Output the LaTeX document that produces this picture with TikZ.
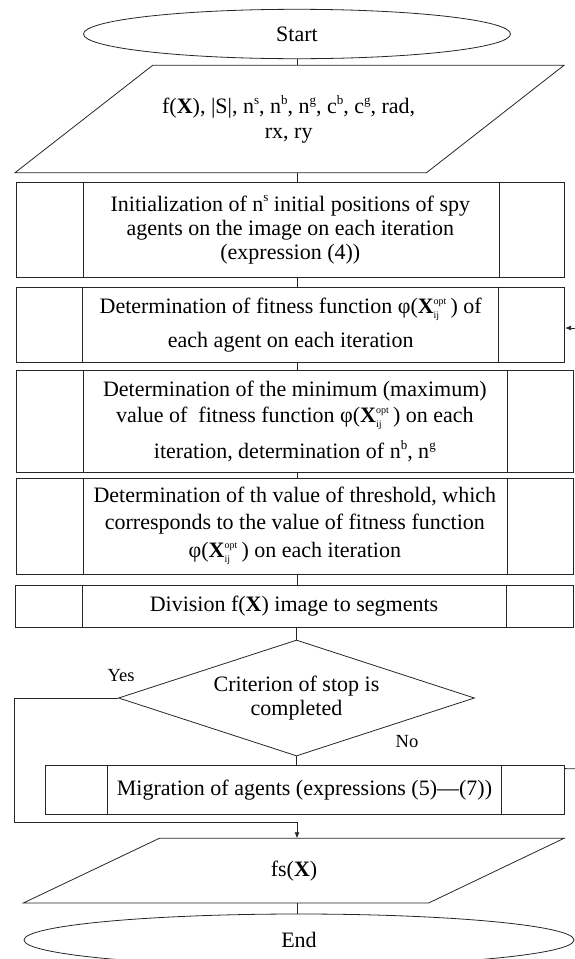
\documentclass[tikz,border=0pt]{standalone}
\usepackage{amsmath}
\usepackage{fontspec}
\setmainfont{Liberation Serif}
\usetikzlibrary{shapes.geometric,arrows.meta}
\newcommand\Xopt{$\textbf{X}^{\text{\fontsize{10}{10}\selectfont opt}}_{\text{\fontsize{10}{10}\selectfont ij}}$}
\newcommand\sps[1]{\raisebox{0.42em}{\fontsize{13}{13}\selectfont #1}}
\newcommand\pdlines[3]{%
  \draw ([xshift=#2]#1.north west) -- ([xshift=#2]#1.south west);
  \draw ([xshift=-#3]#1.north east) -- ([xshift=-#3]#1.south east);}
\begin{document}
\begin{tikzpicture}[x=1pt,y=-1pt,line width=0.8pt,draw=black!85,
  every node/.style={font=\fontsize{22}{24}\selectfont, inner sep=0pt, text=black},
  procbox/.style={draw=black!85, rectangle, align=center},
  term/.style={draw=black!85, ellipse},
  decbox/.style={draw=black!85, diamond, aspect=3.07, align=center},
  arr/.style={-{Latex[length=6pt,width=5pt]}},
  lbl/.style={font=\fontsize{18.5}{20}\selectfont}]
\useasboundingbox (0,0) rectangle (574,959);

% terminals
\node[term, minimum width=427pt, minimum height=49.4pt] (start) at (297,34) {Start};

% input parallelogram
\coordinate (p1tl) at (152.7,65.3);
\coordinate (p1tr) at (564,65.3);
\coordinate (p1br) at (426.5,172.7);
\coordinate (p1bl) at (15,172.7);
\coordinate (p1top) at (297,65.3);
\coordinate (p1bot) at (297,172.7);
\draw (p1tl) -- (p1tr) -- (p1br) -- (p1bl) -- cycle;
\node[align=center] (inp) at (288.7,119.5) {f(\textbf{X}), |S|, n\sps{s}, n\sps{b}, n\sps{g}, c\sps{b}, c\sps{g}, rad,\\[1pt]rx, ry};

% process boxes
\node[procbox, minimum width=547.3pt, minimum height=94.7pt] (b1) at (290.35,229.65)
  {Initialization of n\sps{s} initial positions of spy\\agents on the image on each iteration\\(expression (4))};
\pdlines{b1}{66.6pt}{65pt}

\node[procbox, minimum width=548pt, minimum height=75.7pt] (b2) at (290.7,324.85)
  {Determination of fitness function φ(\Xopt\,) of\\[10pt]each agent on each iteration};
\pdlines{b2}{66.3pt}{66.7pt}

\node[procbox, minimum width=556.3pt, minimum height=101.5pt] (b3) at (294.85,421.25)
  {Determination of the minimum (maximum)\\[2.7pt]value of\ \ fitness function φ(\Xopt\,) on each\\[9.3pt]iteration, determination of n\sps{b}, n\sps{g}};
\pdlines{b3}{67.3pt}{66.3pt}

\node[procbox, minimum width=556.3pt, minimum height=95.7pt] (b4) at (294.85,526.15)
  {Determination of th value of threshold, which\\[2.7pt]corresponds to the value of fitness function\\[4.3pt]φ(\Xopt\,) on each iteration};
\pdlines{b4}{67.3pt}{66.3pt}

\node[procbox, minimum width=558pt, minimum height=42.7pt] (b5) at (294,606.35)
  {Division f(\textbf{X}) image to segments};
\pdlines{b5}{67.7pt}{67.5pt}

% decision
\node[decbox, minimum width=356pt, minimum height=116pt] (dec) at (296.5,698)
  {Criterion of stop is\\completed};
\node[lbl] (yes) at (121,676) {Yes};
\node[lbl] (no) at (407,741.7) {No};

% migration
\node[procbox, minimum width=519pt, minimum height=48.3pt] (mig) at (304.5,789.85)
  {Migration of agents (expressions (5)—(7))};
\pdlines{mig}{62.3pt}{63.3pt}

% output parallelogram
\coordinate (p2tl) at (159.3,838.3);
\coordinate (p2tr) at (564,838.3);
\coordinate (p2br) at (428.6,903);
\coordinate (p2bl) at (23.3,903);
\coordinate (p2top) at (297,838.3);
\coordinate (p2bot) at (297,903);
\draw (p2tl) -- (p2tr) -- (p2br) -- (p2bl) -- cycle;
\node (outp) at (294,871) {fs(\textbf{X})};

\node[term, minimum width=550pt, minimum height=52pt] (end) at (299,940) {End};

% connectors
\draw (start.south) -- (p1top);
\draw (p1bot) -- (b1.north -| p1bot);
\draw (b1.south -| p1bot) -- (b2.north -| p1bot);
\draw (b2.south -| p1bot) -- (b3.north -| p1bot);
\draw (b3.south -| p1bot) -- (b4.north -| p1bot);
\draw (b4.south -| p1bot) -- (b5.north -| p1bot);
\draw (b5.south -| dec) -- (dec.north);
\draw (dec.south) -- (mig.north -| dec);
\draw (p2bot) -- (end.north -| p2bot);

% yes branch
\coordinate (ycorner) at (14,698);
\coordinate (ret) at (297,822.3);
\draw[arr] (dec.west) -- (ycorner) |- (ret) -- (p2top);

% loop back (leaves the picture on the right)
\coordinate (loopA) at (585,769);
\coordinate (loopB) at (585,328);
\draw ([yshift=-3.3pt]mig.north east) -- (loopA);
\draw[arr] (loopB) -- (b2.east |- loopB);
\end{tikzpicture}
\end{document}
